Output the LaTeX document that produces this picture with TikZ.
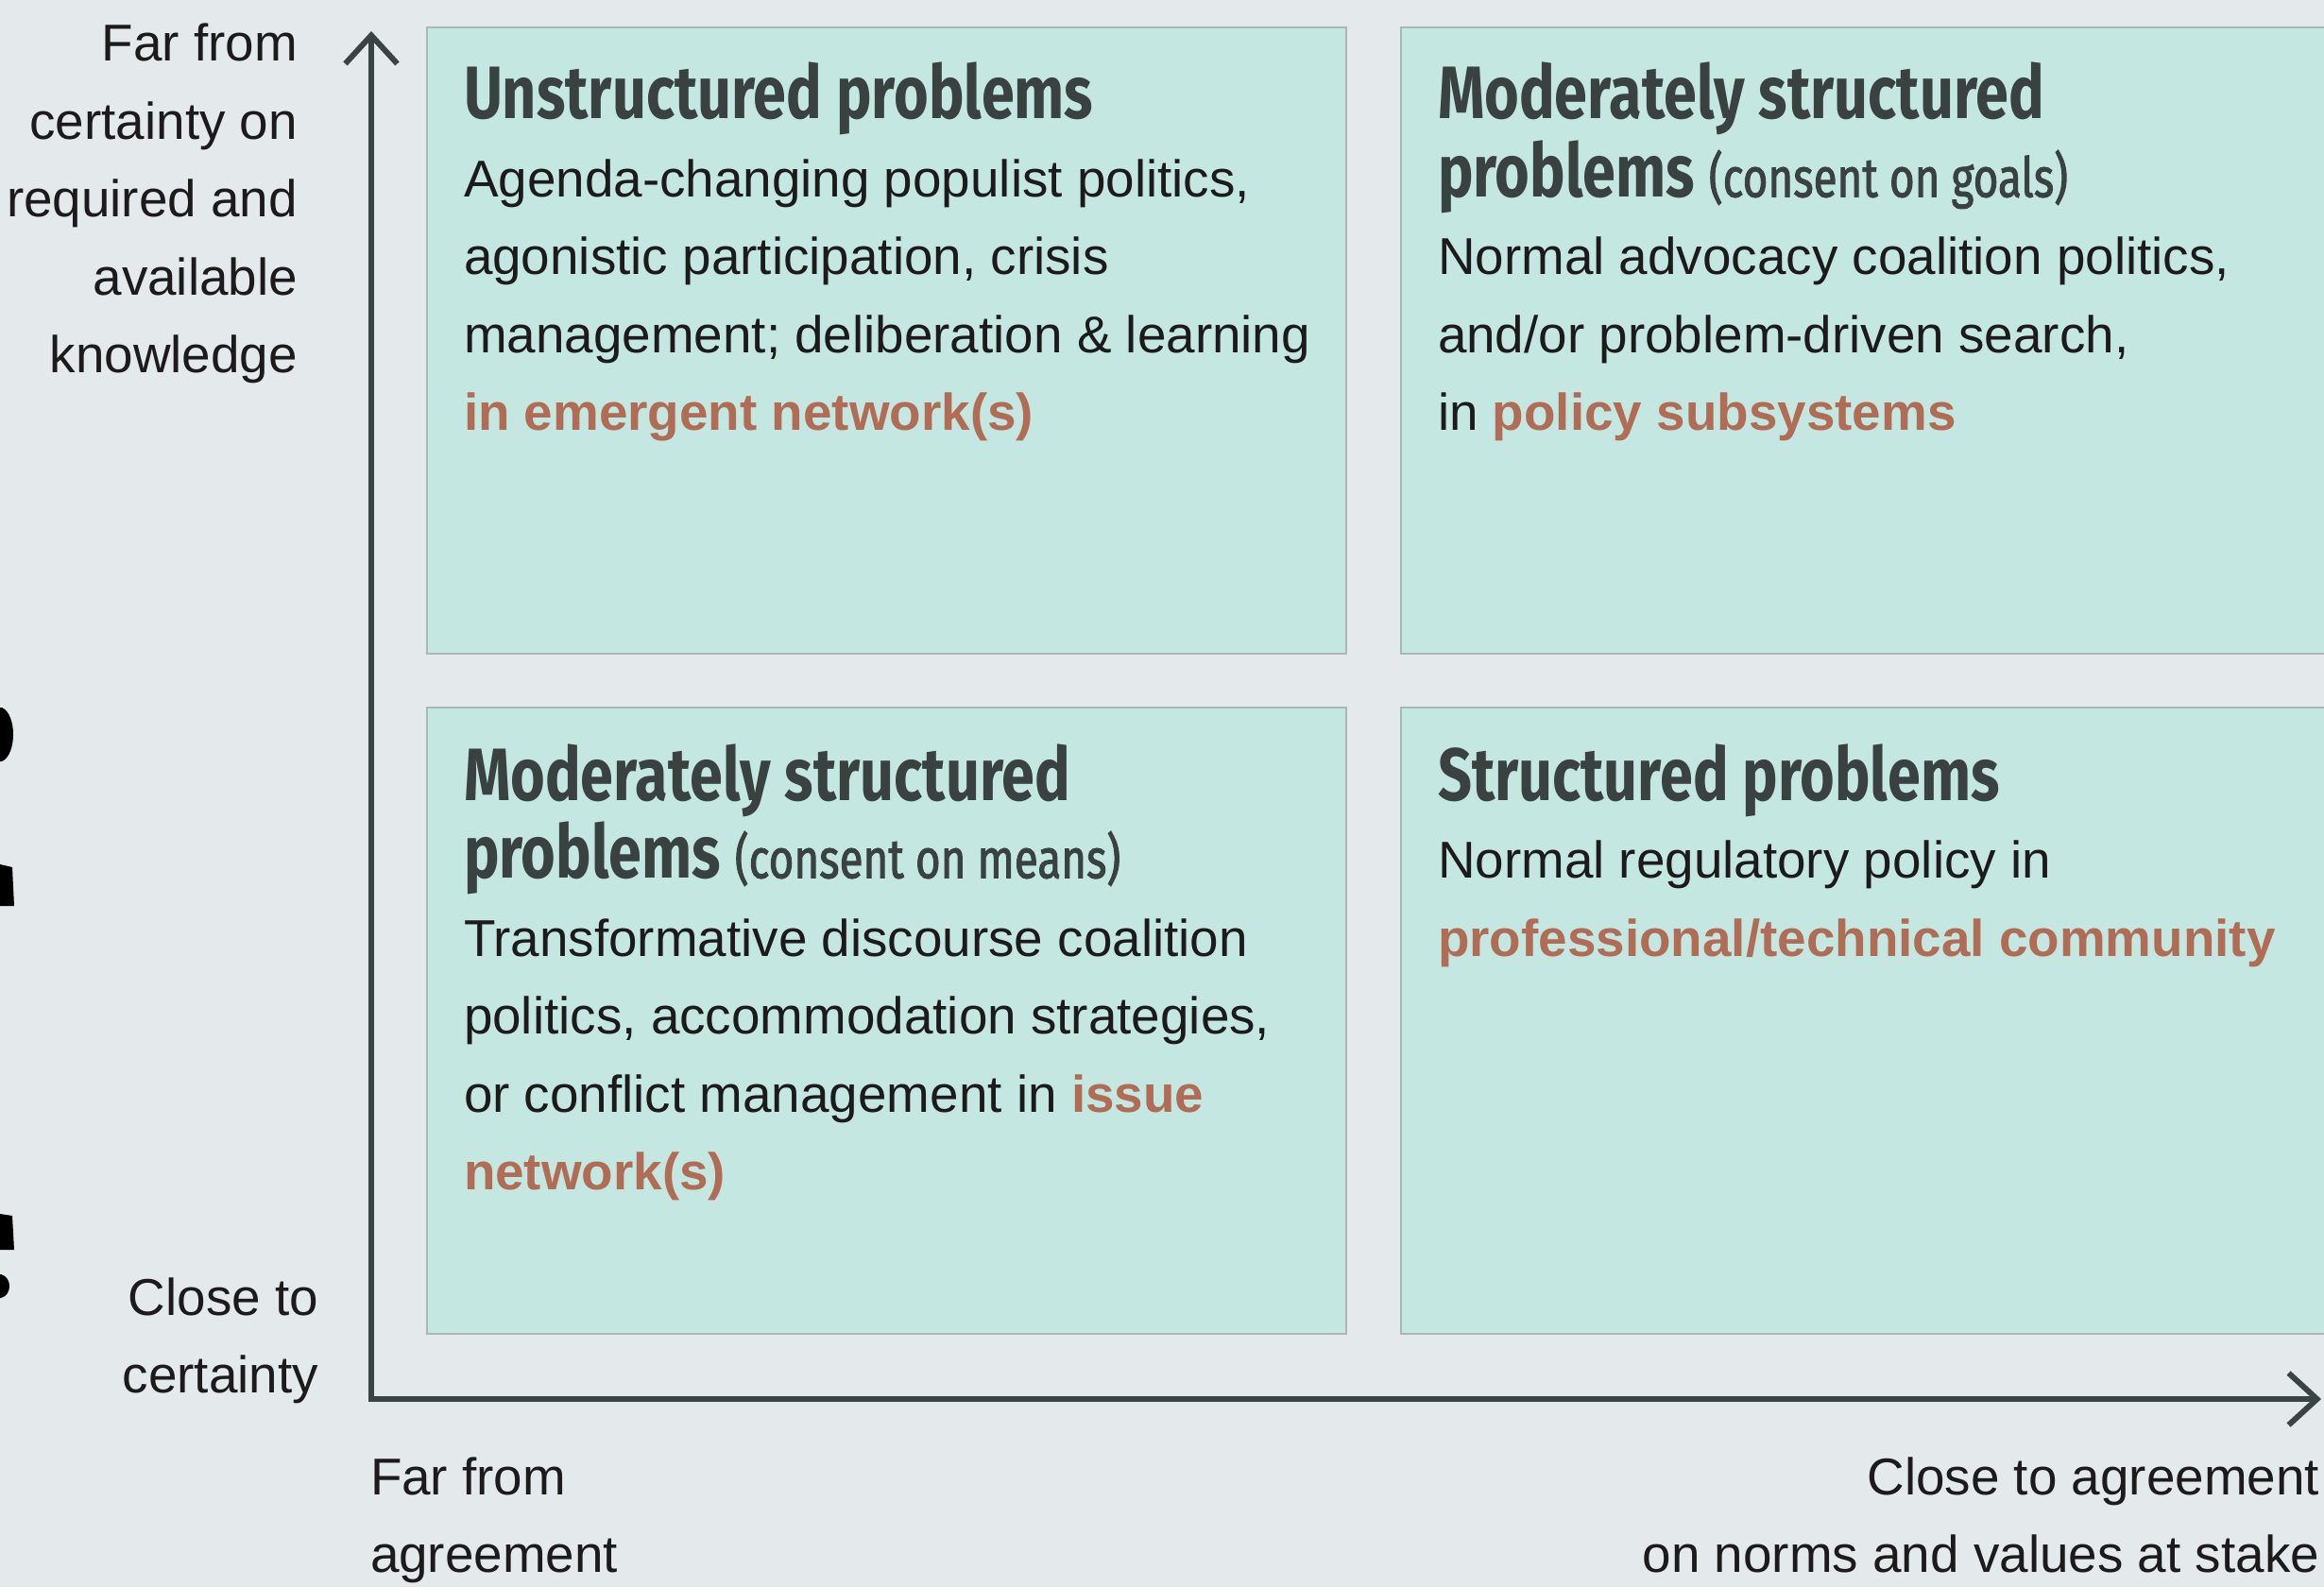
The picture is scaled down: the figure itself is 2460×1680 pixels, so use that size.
\documentclass[tikz,border=0pt]{standalone}
\usepackage{fontspec}
\setmainfont{Liberation Sans}
\newfontfamily\headfont[FakeStretch=0.8]{Fira Sans}
\newfontfamily\parenfont[FakeStretch=0.78,FakeBold=1.6]{Fira Sans}
\usetikzlibrary{arrows.meta}
\definecolor{bgc}{HTML}{E4E9EB}
\definecolor{boxc}{HTML}{C4E8E1}
\definecolor{boxline}{HTML}{AAB8B5}
\definecolor{axisc}{HTML}{3A4443}
\definecolor{headc}{HTML}{394240}
\definecolor{bodyc}{HTML}{1C1A1A}
\definecolor{accentc}{HTML}{B06C55}
\newcommand\acc[1]{{\bfseries\color{accentc}#1}}
\newcommand\paren[1]{{\parenfont\mdseries\fontsize{17.6pt}{20pt}\selectfont #1}}
\tikzset{
  quad/.style={fill=boxc, draw=boxline, line width=0.45pt},
  txt/.style={inner sep=0pt, outer sep=0pt, text=bodyc, font=\fontsize{16.45pt}{24pt}\selectfont, anchor=base west},
  txtr/.style={txt, anchor=base east},
  head/.style={inner sep=0pt, outer sep=0pt, text=headc, font=\headfont\bfseries\fontsize{23.6pt}{26pt}\selectfont, anchor=base west},
  axisline/.style={draw=axisc, line width=1.8pt, line join=miter, {Straight Barb[length=9pt,width=16.5pt]}-{Straight Barb[length=9pt,width=16.5pt]}}
}
\begin{document}
\begin{tikzpicture}[x=0.3pt,y=-0.3pt]
\fill[bgc] (0,0) rectangle (2460,1680);
\useasboundingbox (0,0) rectangle (2460,1680);
% edge fragments
\fill[black] (0,749) -- (2,749) .. controls (18,756) and (18,799) .. (2,806) -- (0,806) -- cycle;
\fill[black] (0,915) -- (13,918) -- (15,959) -- (0,959) -- cycle;
\fill[black] (0,1285) -- (13,1287) -- (15,1323) -- (0,1323) -- cycle;
\fill[black] (0,1349) -- (1,1349) .. controls (13,1352) and (13,1371) .. (1,1374) -- (0,1374) -- cycle;
% quadrants
\draw[quad] (452,29) rectangle (1425,692);
\draw[quad] (1483,29) rectangle (2475,692);
\draw[quad] (452,749) rectangle (1425,1412);
\draw[quad] (1483,749) rectangle (2475,1412);
% axes
\coordinate (ytip) at (393,33);
\coordinate (orig) at (393,1481);
\coordinate (xtip) at (2457,1481);
\draw[axisline] (ytip) -- (orig) -- (xtip);
% axis labels
\node[txtr] (ly1) at (315,65) {Far from};
\node[txtr] (ly2) at (315,147.5) {certainty on};
\node[txtr] (ly3) at (315,230) {required and};
\node[txtr] (ly4) at (315,312.5) {available};
\node[txtr] (ly5) at (315,395) {knowledge};
\node[txtr] (ly6) at (337,1392) {Close to};
\node[txtr] (ly7) at (337,1474) {certainty};
\node[txt] (lx1) at (392,1582) {Far from};
\node[txt] (lx2) at (392,1664) {agreement};
\node[txtr] (lx3) at (2455,1582) {Close to agreement};
\node[txtr] (lx4) at (2455,1664) {on norms and values at stake};
% top-left
\node[head] (h1) at (491,126) {Unstructured problems};
\node[txt] (a1) at (491,208.5) {Agenda-changing populist politics,};
\node[txt] (a2) at (491,291) {agonistic participation, crisis};
\node[txt] (a3) at (491,373.5) {management; deliberation \& learning};
\node[txt] (a4) at (491,456) {\acc{in emergent network(s)}};
% top-right
\node[head] (h2) at (1522,126) {Moderately structured};
\node[head] (h2b) at (1522,208.5) {problems \paren{(consent on goals)}};
\node[txt] (b1) at (1522,291) {Normal advocacy coalition politics,};
\node[txt] (b2) at (1522,373.5) {and/or problem-driven search,};
\node[txt] (b3) at (1522,456) {in \acc{policy subsystems}};
% bottom-left
\node[head] (h3) at (491,847) {Moderately structured};
\node[head] (h3b) at (491,929.5) {problems \paren{(consent on means)}};
\node[txt] (c1) at (491,1012) {Transformative discourse coalition};
\node[txt] (c2) at (491,1094.5) {politics, accommodation strategies,};
\node[txt] (c3) at (491,1177) {or conflict management in \acc{issue}};
\node[txt] (c4) at (491,1259.5) {\acc{network(s)}};
% bottom-right
\node[head] (h4) at (1522,847) {Structured problems};
\node[txt] (d1) at (1522,929.5) {Normal regulatory policy in};
\node[txt] (d2) at (1522,1012) {\acc{professional/technical community}};
\end{tikzpicture}
\end{document}
